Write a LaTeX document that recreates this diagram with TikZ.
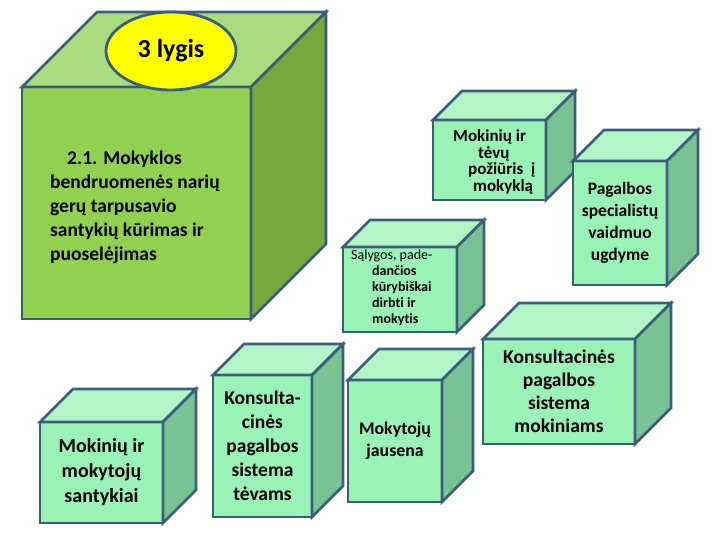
\documentclass[tikz,border=0pt]{standalone}
\usepackage{fontspec}
\setmainfont[Ligatures=NoCommon]{Carlito}
\usetikzlibrary{calc,shapes.geometric}
\definecolor{bord}{HTML}{3B5E7D}
\definecolor{gfront}{HTML}{92D050}
\definecolor{gtop}{HTML}{A9DC7E}
\definecolor{gside}{HTML}{76A83C}
\definecolor{mfront}{HTML}{9AF3B6}
\definecolor{mtop}{HTML}{B2F6C8}
\definecolor{mside}{HTML}{78C393}
\definecolor{lygfill}{HTML}{FFFF00}
\newcommand\mkcube[7]{% name, x, y, w, h, d, colour prefix
  \node[face, fill=#7front, minimum width=#4pt, minimum height=#5pt, anchor=north west] (#1) at (#2,#3) {};
  \filldraw[edge, fill=#7top] (#1.north west) -- ++(#6,-#6) -- ($(#1.north east)+(#6,-#6)$) -- (#1.north east) -- cycle;
  \filldraw[edge, fill=#7side] (#1.north east) -- ++(#6,-#6) -- ($(#1.south east)+(#6,-#6)$) -- (#1.south east) -- cycle;
}
\tikzset{
  face/.style={draw=bord, line width=2.8pt, inner sep=0pt, outer sep=0pt},
  edge/.style={draw=bord, line width=2.8pt},
  lbl/.style={align=center, inner sep=0pt, font=\bfseries}
}
\begin{document}
\begin{tikzpicture}[x=1pt,y=-1pt]
\useasboundingbox (0,0) rectangle (720,540);
\mkcube{big}{22}{87}{229}{232}{75}{g}
\mkcube{santykiai}{40}{422}{123}{101}{33}{m}
\mkcube{konsult}{213}{375}{99}{142}{31}{m}
\mkcube{jausena}{348}{380}{94}{122}{31}{m}
\mkcube{salygos}{343}{247}{114}{85}{27}{m}
\mkcube{mokiniams}{483}{339}{152}{105}{36}{m}
\mkcube{tevu}{433}{120}{113}{80}{29}{m}
\mkcube{pagalbos}{573}{161}{94}{124}{31}{m}

\node[ellipse, draw=bord, line width=2.8pt, fill=lygfill, minimum width=130pt, minimum height=78pt, inner sep=0pt,
      font=\bfseries\fontsize{26}{30}\selectfont] (lyg) at (171,51) {3 lygis};

\node[lbl, align=left, anchor=west, font=\bfseries\fontsize{19.5}{24}\selectfont] (bigtxt) at ([xshift=28pt,yshift=-4pt]big.west)
  {\hspace*{17pt}2.1. Mokyklos\\bendruomenės narių\\gerų tarpusavio\\santykių kūrimas ir\\puoselėjimas};
\node[lbl, font=\bfseries\fontsize{20}{25}\selectfont] (santykiaitxt) at (santykiai.center) {Mokinių ir\\mokytojų\\santykiai};
\node[lbl, font=\bfseries\fontsize{19.5}{24}\selectfont] (konsulttxt) at (konsult.center) {Konsulta-\\cinės\\pagalbos\\sistema\\tėvams};
\node[lbl, font=\bfseries\fontsize{17.8}{22}\selectfont] (jausenatxt) at (jausena.center) {Mokytojų\\jausena};
\node[lbl, font=\bfseries\fontsize{19.5}{23}\selectfont] (mokiniamstxt) at (mokiniams.center) {Konsultacinės\\pagalbos\\sistema\\mokiniams};
\node[lbl, font=\bfseries\fontsize{17.5}{22}\selectfont] (pagalbostxt) at (pagalbos.center) {Pagalbos\\specialistų\\vaidmuo\\ugdyme};
\node[lbl, align=left, anchor=west, font=\bfseries\fontsize{17}{16.5}\selectfont] (tevutxt) at ([xshift=20pt,yshift=-2pt]tevu.west)
  {Mokinių ir\\\hspace*{25pt}tėvų\\\hspace*{15pt}požiūris\ \ į\\\hspace*{20pt}mokyklą};
\node[lbl, align=left, anchor=west, font=\bfseries\fontsize{14}{16}\selectfont] (salygostxt) at ([xshift=8pt,yshift=2pt]salygos.west)
  {{\mdseries Sąlygos, pade-}\\\hspace*{21pt}dančios\\\hspace*{21pt}kūrybiškai\\\hspace*{21pt}dirbti ir\\\hspace*{21pt}mokytis};
\end{tikzpicture}
\end{document}
